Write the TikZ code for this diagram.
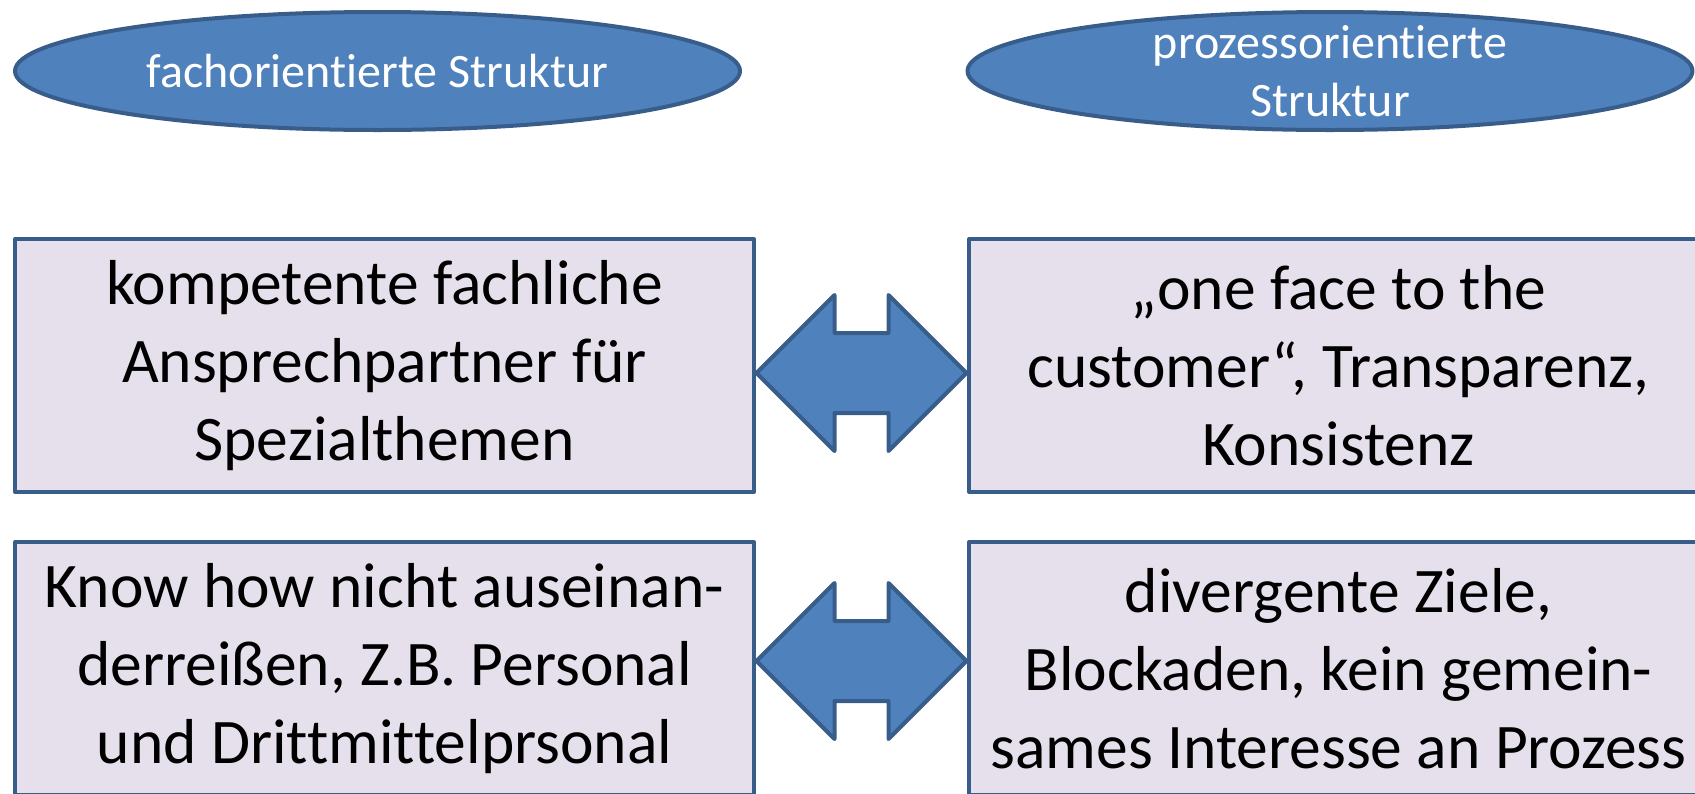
\documentclass[tikz,border=0pt]{standalone}
\usepackage{fontspec}
\setmainfont{Carlito}[RawFeature={-liga;-clig;-calt;-dlig}]
\usetikzlibrary{shapes.geometric,shapes.arrows,calc}
\definecolor{blaufill}{HTML}{4F81BD}
\definecolor{blaurand}{HTML}{385D8A}
\definecolor{flieder}{HTML}{E5E0EC}
\begin{document}
\begin{tikzpicture}[x=1pt,y=1pt,line join=round,
    oval/.style={ellipse,draw=blaurand,fill=blaufill,line width=4pt,minimum width=725pt,minimum height=118pt,inner sep=0pt},
    ovaltext/.style={text=white,align=center,inner sep=0pt,font=\fontsize{48}{58}\selectfont},
    box/.style={rectangle,draw=blaurand,fill=flieder,line width=4pt,minimum width=739pt,minimum height=253pt,inner sep=0pt,align=center,font=\fontsize{63.5}{78}\selectfont},
    dblarrow/.style={double arrow,draw=blaurand,fill=blaufill,line width=4pt,double arrow head extend=38pt,inner sep=38pt,minimum height=210pt,minimum width=152pt}]
                \useasboundingbox (0,0) rectangle (1695,-793);
                % Kopf: die beiden Strukturen
                \node[oval] (fach) at (377.5,-71) {};
                \node[ovaltext] (fachtext) at (fach.center) {fachorientierte Struktur};
                \node[oval] (proz) at (1330,-71) {};
                \node[ovaltext] (proztext) at (proz.center) {prozessorientierte\\Struktur};
                % Vorteile
                \node[box] (vfach) at (384.5,-365.5) {kompetente fachliche\\Ansprechpartner für\\Spezialthemen};
                \node[box] (vproz) at (1338.5,-365.5) {„one face to the\\customer“, Transparenz,\\Konsistenz};
                % Nachteile
                \node[box] (nfach) at (384.5,-668.5) {Know how nicht auseinan-\\derreißen, Z.B. Personal\\und Drittmittelprsonal};
                \node[box] (nproz) at (1338.5,-668.5) {divergente Ziele,\\Blockaden, kein gemein-\\sames Interesse an Prozess};
                % Doppelpfeile zwischen den Spalten
                \node[dblarrow] (pfeil1) at ($(vfach.east)!0.5!(vproz.west)+(0,-7.5)$) {};
                \node[dblarrow] (pfeil2) at ($(nfach.east)!0.5!(nproz.west)+(0,7.5)$) {};
            \end{tikzpicture}
\end{document}
